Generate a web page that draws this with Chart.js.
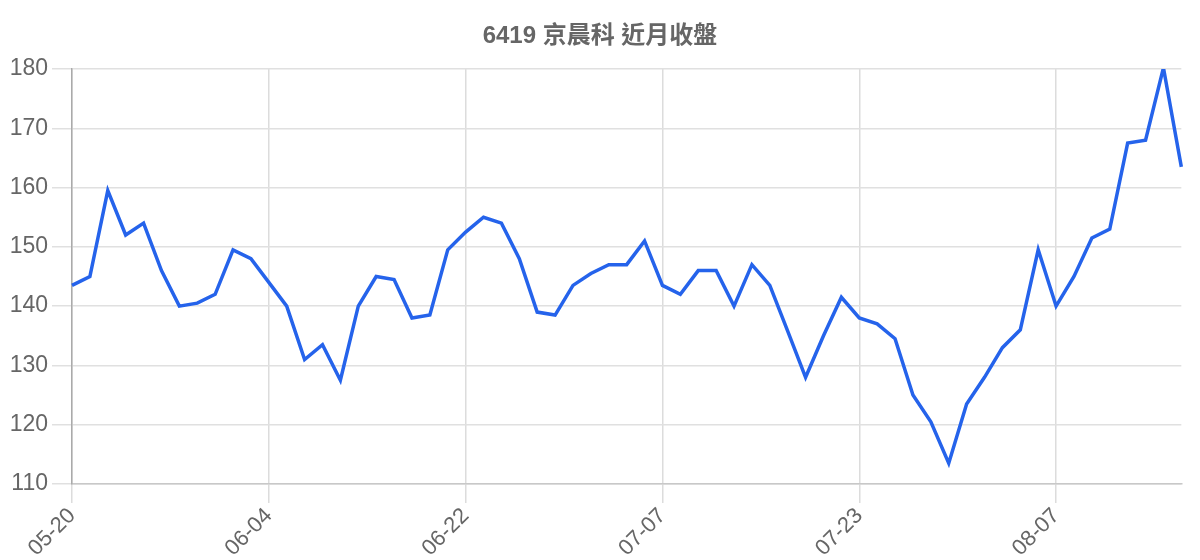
<!DOCTYPE html>
<html>
<head>
<meta charset="utf-8">
<script src="https://cdn.jsdelivr.net/npm/chart.js@4"></script>
<style>
html,body{margin:0;padding:0;background:#fff;}
#wrap{width:1200px;height:560px;}
</style>
</head>
<body>
<div id="wrap"><canvas id="c" width="1200" height="560"></canvas></div>
<script>
const titleText = "6419 京晨科 近月收盤";
const dates = [
  "05-20","05-21","05-22","05-23","05-24","05-27","05-28","05-29","05-30","05-31",
  "06-03","06-04","06-05","06-06","06-07","06-11","06-12","06-13","06-14","06-18",
  "06-19","06-21","06-22","06-24","06-25","06-26","06-27","06-28","07-01","07-02",
  "07-03","07-04","07-05","07-07","07-08","07-09","07-10","07-11","07-12","07-15",
  "07-16","07-17","07-19","07-22","07-23","07-24","07-25","07-26","07-29","07-30",
  "07-31","08-01","08-02","08-05","08-06","08-07","08-08","08-09","08-12","08-13",
  "08-14","08-15","08-16"
];
const closes = [
  143.5,145,159.5,152,154,146,140,140.5,142,149.5,
  148,144,140,131,133.5,127.5,140,145,144.5,138,
  138.5,149.5,152.5,155,154,148,139,138.5,143.5,145.5,
  147,147,151,143.5,142,146,146,140,147,143.5,
  135.8,128,135,141.5,138,137,134.5,125,120.5,113.5,
  123.5,128,133,136,149.5,140,145,151.5,153,167.5,
  168,180.2,163.5
];
const yTicks = [110,120,130,140,150,160,170,180];
const labelEvery = 11;

const FONT = "'Liberation Sans', Arial, 'Noto Sans CJK TC', sans-serif";

new Chart(document.getElementById('c'), {
  type: 'line',
  data: {
    labels: dates,
    datasets: [{
      data: closes,
      borderColor: '#2563eb',
      borderWidth: 3.5,
      pointRadius: 0,
      tension: 0,
      fill: false,
      yAxisID: 'y'
    }]
  },
  options: {
    responsive: false,
    animation: false,
    devicePixelRatio: 1,
    layout: { padding: 0 },
    plugins: {
      legend: { display: false },
      tooltip: { enabled: false },
      title: {
        display: true,
        text: titleText,
        color: '#666',
        font: { family: FONT, size: 24, weight: 'bold' },
        padding: { top: 22, bottom: 18.2 }
      }
    },
    scales: {
      x: {
        afterFit: s => { s.height = 76; },
        grid: {
          color: ctx => (ctx.index % labelEvery === 0 ? '#dcdcdc' : 'rgba(0,0,0,0)'),
          lineWidth: 1.5,
          tickLength: 19
        },
        border: { color: '#c8c8c8', width: 1.5 },
        ticks: {
          autoSkip: false,
          maxRotation: 45,
          minRotation: 45,
          padding: 0,
          color: '#666',
          font: { family: FONT, size: 22 },
          callback: function(v, i) { return i % labelEvery === 0 ? this.getLabelForValue(v) : ''; }
        }
      },
      y: {
        min: 110,
        max: 180,
        position: 'left',
        afterFit: s => { s.width = 72; },
        afterBuildTicks: s => { s.ticks = yTicks.map(v => ({ value: v })); },
        grid: { color: '#e0e0e0', lineWidth: 1.5, tickLength: 20 },
        border: { color: '#aaaaaa', width: 1.5 },
        ticks: {
          padding: 4,
          color: '#666',
          font: { family: FONT, size: 23 }
        }
      },
      yRight: {
        type: 'linear',
        position: 'right',
        min: 0,
        max: 1,
        afterFit: s => { s.width = 17; },
        grid: { display: false, drawTicks: false },
        border: { display: false },
        ticks: { display: false }
      }
    }
  }
});
</script>
</body>
</html>
